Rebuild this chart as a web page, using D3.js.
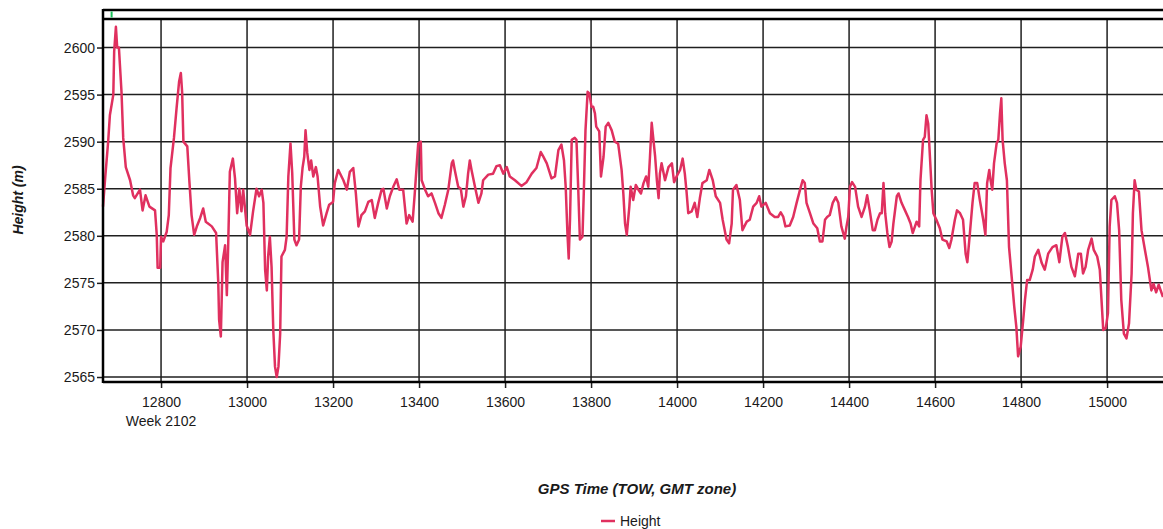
<!DOCTYPE html>
<html>
<head>
<meta charset="utf-8">
<script src="https://cdn.jsdelivr.net/npm/d3@7"></script>
<style>
  body { margin: 0; background: #fff; }
  text { font-family: "Liberation Sans", Arial, sans-serif; fill: #1a1a1a; }
</style>
</head>
<body>
<svg id="chart" width="1163" height="529"></svg>
<script>
// GPS time of week (s) and height (m)
const tow = [12665, 12670, 12677, 12681, 12689, 12691, 12695, 12698, 12702, 12708, 12712, 12718, 12728, 12735, 12739, 12751, 12757, 12764, 12773, 12786,
  12790, 12792, 12798, 12800, 12805, 12813, 12818, 12822, 12830, 12836, 12842, 12846, 12849, 12852, 12861, 12866, 12871, 12877, 12884, 12891,
  12898, 12904, 12918, 12928, 12933, 12935, 12939, 12943, 12949, 12953, 12956, 12960, 12967, 12972, 12977, 12982, 12987, 12991, 12999, 13007,
  13014, 13022, 13028, 13034, 13038, 13042, 13046, 13049, 13053, 13057, 13061, 13065, 13069, 13073, 13077, 13080, 13088, 13092, 13096, 13101,
  13105, 13110, 13115, 13121, 13125, 13129, 13133, 13136, 13140, 13145, 13149, 13154, 13160, 13164, 13170, 13177, 13185, 13191, 13200, 13204,
  13212, 13224, 13232, 13239, 13247, 13253, 13259, 13266, 13274, 13282, 13290, 13297, 13305, 13313, 13317, 13325, 13332, 13340, 13348, 13354,
  13363, 13371, 13377, 13385, 13390, 13398, 13404, 13406, 13414, 13421, 13429, 13437, 13445, 13452, 13460, 13468, 13476, 13479, 13483, 13491,
  13497, 13503, 13509, 13514, 13518, 13522, 13530, 13538, 13545, 13549, 13561, 13572, 13580, 13588, 13596, 13604, 13611, 13623, 13638, 13650,
  13662, 13673, 13683, 13689, 13697, 13708, 13716, 13724, 13731, 13737, 13741, 13745, 13748, 13751, 13755, 13762, 13766, 13770, 13774, 13780,
  13783, 13787, 13792, 13796, 13801, 13805, 13809, 13812, 13819, 13823, 13829, 13834, 13840, 13848, 13855, 13863, 13871, 13875, 13879, 13883,
  13889, 13892, 13898, 13904, 13910, 13916, 13922, 13928, 13933, 13937, 13941, 13945, 13949, 13953, 13957, 13960, 13964, 13972, 13980, 13988,
  13993, 14001, 14007, 14013, 14018, 14022, 14026, 14034, 14041, 14047, 14053, 14059, 14069, 14075, 14083, 14090, 14100, 14106, 14115, 14121,
  14127, 14130, 14138, 14146, 14152, 14162, 14169, 14177, 14185, 14191, 14196, 14206, 14216, 14227, 14235, 14241, 14247, 14252, 14262, 14270,
  14278, 14286, 14292, 14297, 14301, 14309, 14317, 14326, 14332, 14338, 14344, 14349, 14355, 14362, 14369, 14375, 14382, 14390, 14394, 14398,
  14402, 14407, 14414, 14421, 14429, 14437, 14442, 14448, 14455, 14460, 14466, 14472, 14476, 14480, 14484, 14489, 14494, 14499, 14503, 14511,
  14515, 14522, 14530, 14537, 14543, 14548, 14557, 14563, 14566, 14572, 14576, 14580, 14584, 14588, 14592, 14596, 14603, 14611, 14617, 14627,
  14633, 14638, 14646, 14651, 14658, 14665, 14671, 14675, 14681, 14687, 14692, 14698, 14704, 14712, 14717, 14721, 14726, 14729, 14733, 14737,
  14743, 14747, 14751, 14754, 14757, 14762, 14767, 14772, 14778, 14784, 14789, 14793, 14799, 14805, 14809, 14814, 14820, 14827, 14832, 14840,
  14848, 14855, 14863, 14873, 14882, 14889, 14896, 14902, 14909, 14917, 14925, 14933, 14939, 14944, 14950, 14956, 14964, 14969, 14977, 14983,
  14987, 14991, 14997, 15002, 15006, 15010, 15018, 15023, 15028, 15033, 15039, 15045, 15051, 15057, 15060, 15064, 15068, 15074, 15080, 15088,
  15095, 15103, 15108, 15114, 15120, 15130];

const height = [2583.1, 2586.1, 2590.0, 2592.8, 2595.0, 2599.6, 2602.2, 2600.0, 2600.0, 2595.3, 2590.4, 2587.3, 2585.9, 2584.3, 2584.0, 2584.9, 2582.7, 2584.3, 2583.1, 2582.7,
  2580.1, 2576.6, 2576.6, 2579.9, 2579.4, 2580.4, 2582.2, 2587.2, 2590.4, 2593.5, 2596.4, 2597.3, 2595.3, 2590.0, 2589.5, 2585.7, 2582.2, 2580.1, 2581.1, 2581.9,
  2582.9, 2581.5, 2581.0, 2580.3, 2575.1, 2571.1, 2569.3, 2577.2, 2579.0, 2573.7, 2578.7, 2586.8, 2588.2, 2586.1, 2582.4, 2585.0, 2582.6, 2584.9, 2581.1, 2580.1,
  2582.6, 2585.0, 2584.2, 2584.9, 2583.5, 2576.4, 2574.2, 2577.8, 2579.9, 2576.7, 2570.0, 2566.1, 2565.0, 2566.1, 2569.6, 2577.8, 2578.5, 2579.9, 2586.3, 2589.8,
  2586.7, 2579.6, 2579.0, 2579.6, 2585.2, 2587.2, 2588.4, 2591.2, 2588.8, 2587.0, 2588.0, 2586.3, 2587.3, 2586.3, 2583.1, 2581.1, 2582.4, 2583.3, 2583.6, 2585.6,
  2587.0, 2585.9, 2584.9, 2586.8, 2587.2, 2584.5, 2581.0, 2582.2, 2582.6, 2583.6, 2583.8, 2581.9, 2583.5, 2584.9, 2585.0, 2582.9, 2584.2, 2585.2, 2586.0, 2584.9,
  2584.9, 2581.3, 2582.2, 2581.5, 2584.5, 2589.8, 2590.0, 2585.9, 2584.9, 2584.2, 2584.5, 2583.5, 2582.4, 2581.9, 2583.3, 2584.9, 2587.7, 2588.0, 2587.0, 2585.2,
  2585.0, 2583.1, 2584.2, 2586.6, 2588.0, 2587.0, 2585.2, 2583.5, 2584.5, 2585.9, 2586.5, 2586.6, 2587.4, 2587.5, 2586.6, 2587.3, 2586.3, 2585.9, 2585.3, 2585.7,
  2586.6, 2587.2, 2588.9, 2588.4, 2587.7, 2586.1, 2586.3, 2589.1, 2589.7, 2588.0, 2585.2, 2580.3, 2577.6, 2581.7, 2590.2, 2590.4, 2590.2, 2585.2, 2579.6, 2579.9,
  2584.5, 2591.2, 2595.3, 2595.1, 2593.7, 2593.7, 2593.0, 2591.6, 2591.1, 2586.3, 2588.4, 2591.6, 2592.0, 2591.2, 2590.0, 2589.8, 2587.0, 2584.5, 2581.3, 2580.1,
  2583.1, 2585.2, 2583.8, 2585.4, 2584.9, 2584.5, 2585.6, 2586.3, 2585.2, 2588.4, 2592.0, 2590.2, 2588.4, 2585.9, 2584.0, 2586.6, 2587.7, 2585.9, 2587.3, 2587.7,
  2585.7, 2586.5, 2587.0, 2588.2, 2586.6, 2584.7, 2582.4, 2582.6, 2583.5, 2582.0, 2584.0, 2585.6, 2585.9, 2587.0, 2585.9, 2584.2, 2583.5, 2581.7, 2579.6, 2579.2,
  2581.3, 2584.9, 2585.4, 2583.8, 2580.6, 2581.5, 2581.7, 2583.1, 2583.5, 2584.2, 2583.1, 2583.5, 2582.4, 2582.0, 2582.0, 2582.5, 2582.0, 2581.0, 2581.1, 2582.0,
  2583.5, 2584.9, 2585.9, 2585.6, 2583.5, 2582.4, 2581.3, 2580.8, 2579.4, 2579.4, 2581.7, 2582.0, 2582.2, 2583.5, 2584.1, 2583.5, 2581.0, 2579.7, 2581.0, 2582.0,
  2585.2, 2585.7, 2585.2, 2583.1, 2582.0, 2583.1, 2584.3, 2582.7, 2580.6, 2580.6, 2581.7, 2582.4, 2582.4, 2585.6, 2582.4, 2580.3, 2578.8, 2579.4, 2581.3, 2584.2,
  2584.5, 2583.5, 2582.7, 2582.0, 2581.3, 2580.3, 2581.5, 2581.0, 2585.9, 2590.2, 2590.5, 2592.8, 2591.9, 2588.4, 2584.9, 2582.4, 2581.7, 2580.8, 2579.6, 2579.4,
  2578.7, 2579.6, 2581.7, 2582.7, 2582.4, 2581.7, 2578.1, 2577.2, 2580.3, 2583.5, 2585.6, 2585.6, 2583.8, 2581.7, 2580.1, 2585.6, 2587.0, 2585.9, 2584.9, 2587.7,
  2589.8, 2590.2, 2593.0, 2594.6, 2590.2, 2587.7, 2585.9, 2578.8, 2575.7, 2572.5, 2570.3, 2567.2, 2568.2, 2571.1, 2573.2, 2575.3, 2575.3, 2576.4, 2577.8, 2578.5,
  2577.1, 2576.4, 2578.1, 2578.8, 2579.0, 2577.2, 2579.9, 2580.3, 2578.8, 2576.7, 2575.7, 2578.1, 2578.1, 2576.0, 2576.7, 2578.5, 2579.7, 2578.5, 2577.8, 2576.4,
  2573.2, 2570.0, 2570.2, 2571.8, 2581.0, 2583.8, 2584.2, 2583.5, 2580.6, 2573.2, 2569.6, 2569.1, 2570.7, 2576.0, 2582.4, 2585.9, 2584.9, 2584.7, 2580.6, 2578.5,
  2576.7, 2574.2, 2574.9, 2574.0, 2574.8, 2573.5];

const xTicks = [12800, 13000, 13200, 13400, 13600, 13800, 14000, 14200, 14400, 14600, 14800, 15000];
const yTicks = [2565, 2570, 2575, 2580, 2585, 2590, 2595, 2600];
const weekLabel = "Week 2102";
const seriesName = "Height";

const lineColor = "#e0305f";
const gridColor = "#1f1f1f";
const fontFamily = "Liberation Sans, Arial, sans-serif";

const svg = d3.select("#chart");
const plot = {left: 103, right: 1163, top: 19, bottom: 382};

const x = d3.scaleLinear().domain([12665, 15130]).range([plot.left, plot.right]);
const y = d3.scaleLinear().domain([2564.47, 2603.03]).range([plot.bottom, plot.top]);

// grid
const grid = svg.append("g");
grid.selectAll(".hg").data(yTicks).enter().append("line")
    .attr("x1", plot.left).attr("x2", plot.right)
    .attr("y1", d => y(d)).attr("y2", d => y(d))
    .attr("stroke", gridColor).attr("stroke-width", 1.5);
grid.selectAll(".vg").data(xTicks).enter().append("line")
    .attr("x1", d => x(d)).attr("x2", d => x(d))
    .attr("y1", plot.top).attr("y2", plot.bottom)
    .attr("stroke", gridColor).attr("stroke-width", 1.5);

// axes
const yAxis = d3.axisLeft(y).tickValues(yTicks).tickSize(6).tickPadding(2).tickFormat(d3.format("d"));
const gy = svg.append("g").attr("transform", `translate(${plot.left},0)`).call(yAxis);
gy.select(".domain").remove();
gy.selectAll(".tick line").attr("stroke", gridColor).attr("stroke-width", 1.5);
gy.selectAll(".tick text").attr("font-size", 14).attr("fill", "#1a1a1a")
    .attr("font-family", fontFamily);

const xAxis = d3.axisBottom(x).tickValues(xTicks).tickSize(6).tickPadding(9).tickFormat(d3.format("d"));
const gx = svg.append("g").attr("transform", `translate(0,${plot.bottom})`).call(xAxis);
gx.select(".domain").remove();
gx.selectAll(".tick line").attr("stroke", gridColor).attr("stroke-width", 1.5);
gx.selectAll(".tick text").attr("font-size", 14).attr("fill", "#1a1a1a")
    .attr("font-family", fontFamily);

svg.append("text").attr("x", x(xTicks[0])).attr("y", 426)
    .attr("text-anchor", "middle").attr("font-size", 14).text(weekLabel);

// series
const pts = tow.map((t, i) => [t, height[i]]);
svg.append("path").datum(pts)
    .attr("fill", "none").attr("stroke", lineColor).attr("stroke-width", 2.5)
    .attr("stroke-linejoin", "round")
    .attr("d", d3.line().x(d => x(d[0])).y(d => y(d[1])));

// frame + top strip
svg.append("line").attr("x1", plot.left).attr("x2", plot.left).attr("y1", 9).attr("y2", plot.bottom + 1)
    .attr("stroke", "#000").attr("stroke-width", 2.5);
svg.append("line").attr("x1", plot.left).attr("x2", plot.right).attr("y1", 10).attr("y2", 10)
    .attr("stroke", "#000").attr("stroke-width", 2.5);
svg.append("line").attr("x1", plot.left).attr("x2", plot.right).attr("y1", plot.top).attr("y2", plot.top)
    .attr("stroke", "#000").attr("stroke-width", 2.5);
svg.append("line").attr("x1", plot.left).attr("x2", plot.right).attr("y1", plot.bottom).attr("y2", plot.bottom)
    .attr("stroke", "#000").attr("stroke-width", 2.5);
svg.append("rect").attr("x", x(12685) - 1).attr("y", 11.5).attr("width", 2).attr("height", 6)
    .attr("fill", "#19c05a");

// titles
svg.append("text").attr("transform", "translate(23,200) rotate(-90)")
    .attr("text-anchor", "middle").attr("font-size", 14).attr("font-weight", "bold")
    .attr("font-style", "italic").text("Height (m)");
svg.append("text").attr("x", 637).attr("y", 494)
    .attr("text-anchor", "middle").attr("font-size", 15).attr("font-weight", "bold")
    .attr("font-style", "italic").text("GPS Time (TOW, GMT zone)");

// legend
const lg = svg.append("g").attr("transform", "translate(601,521)");
lg.append("line").attr("x1", 0).attr("x2", 14).attr("y1", 0).attr("y2", 0)
    .attr("stroke", lineColor).attr("stroke-width", 2.5);
lg.append("text").attr("x", 19).attr("y", 5).attr("font-size", 14).text(seriesName);
</script>
</body>
</html>
